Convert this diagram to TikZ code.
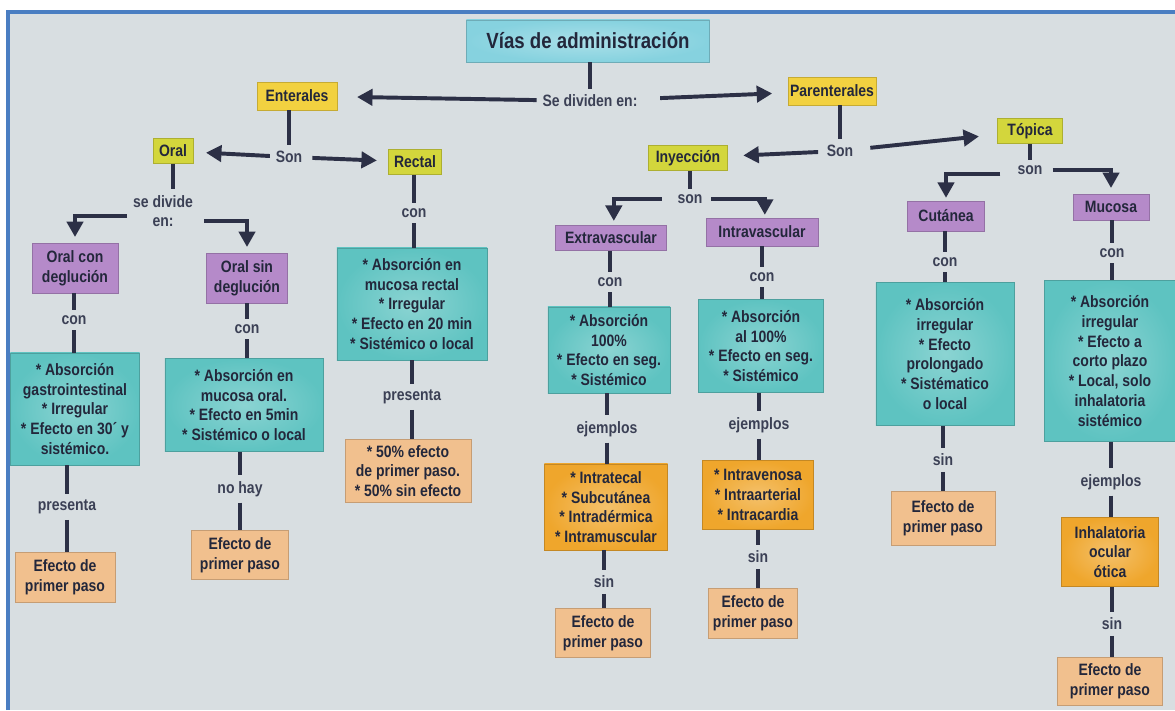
\documentclass[tikz,border=0pt]{standalone}
\usepackage{fontspec}
\setmainfont{Liberation Sans}[FakeStretch=0.85]
\usetikzlibrary{arrows.meta}
\definecolor{bgc}{HTML}{D8DEE1}
\definecolor{framec}{HTML}{4A7EC2}
\definecolor{txt}{HTML}{23273B}
\definecolor{labc}{HTML}{3B4055}
\definecolor{linec}{HTML}{2C3046}
\definecolor{ttlc}{HTML}{86D2DF}
\definecolor{yelc}{HTML}{F2D140}
\definecolor{lgc}{HTML}{D3D63C}
\definecolor{purc}{HTML}{B58AC9}
\definecolor{teac}{HTML}{5EC3C1}
\definecolor{orac}{HTML}{EFA62C}
\definecolor{pchc}{HTML}{F1C08E}
\tikzset{
  nbase/.style={font=\bfseries\fontsize{11.7pt}{14pt}\selectfont, text=txt, align=center, inner sep=0pt},
  sz/.style 2 args={minimum width={#1*0.7113pt}, minimum height={#2*0.7113pt}},
  boxc/.style={nbase, fill=#1, draw=#1!82!black, line width=0.5pt},
  ttl/.style={boxc=ttlc, inner color=ttlc!70!white, outer color=ttlc, font=\bfseries\fontsize{15.6pt}{18pt}\selectfont},
  yel/.style={boxc=yelc},
  lg/.style={boxc=lgc},
  pur/.style={boxc=purc},
  tea/.style={boxc=teac, inner color=teac!72!white, outer color=teac},
  ora/.style={boxc=orac, inner color=orac!70!white, outer color=orac},
  pch/.style={boxc=pchc},
  lab/.style={nbase, text=labc, inner sep=4pt},
  conn/.style={draw=linec, line width=2.8pt},
  arr/.style={draw=linec, line width=2.8pt, -{Triangle[length=11pt,width=11.5pt]}},
}
\begin{document}
\begin{tikzpicture}[x=0.025cm,y=-0.025cm]
\useasboundingbox (0,0) rectangle (1175,710);
\fill[white] (0,0) rectangle (1175,710);
\fill[bgc] (8,12) rectangle (1175,710);
\draw[framec, line width=2.2pt] (8,710) -- (8,12) -- (1175,12);

% top level
\node[ttl, sz={243}{42}] (title) at (588,41) {Vías de administración};
\node[lab] (sediv) at (590,101) {Se dividen en:};
\node[yel, sz={80}{28}] (ent) at (297,96) {Enterales};
\node[yel, sz={88}{28}] (par) at (832,91) {Parenterales};

% enterales branch
\node[lab] (son1) at (289,157) {Son};
\node[lg, sz={40}{25}] (oral) at (173,151) {Oral};
\node[lg, sz={53}{25}] (rectal) at (415,162) {Rectal};
\node[lab] (sd) at (163,211) {se divide\\en:};
\node[pur, sz={86}{50}] (ocd) at (75,268) {Oral con\\deglución};
\node[pur, sz={81}{50}] (osd) at (247,278) {Oral sin\\deglución};

\node[lab] (conA) at (74,320) {con};
\node[tea, sz={129}{112}] (tA) at (75,409) {* Absorción\\gastrointestinal\\* Irregular\\* Efecto en 30´ y\\sistémico.};
\node[lab] (presA) at (67,507) {presenta};
\node[pch, sz={100}{50}] (pA) at (65,577) {Efecto de\\primer paso};

\node[lab] (conB) at (247,329) {con};
\node[tea, sz={158}{93}] (tB) at (244,405) {* Absorción en\\mucosa oral.\\* Efecto en 5min\\* Sistémico o local};
\node[lab] (nohay) at (240,489) {no hay};
\node[pch, sz={97}{49}] (pB) at (240,555) {Efecto de\\primer paso};

\node[lab] (conC) at (414,213) {con};
\node[tea, sz={150}{112}] (tC) at (412,304) {* Absorción en\\mucosa rectal\\* Irregular\\* Efecto en 20 min\\* Sistémico o local};
\node[lab] (presC) at (412,397) {presenta};
\node[pch, sz={126}{63}] (pC) at (408,471) {* 50\% efecto\\de primer paso.\\* 50\% sin efecto};

% parenterales branch
\node[lab] (son2) at (840,151) {Son};
\node[lg, sz={79}{25}] (iny) at (688,158) {Inyección};
\node[lg, sz={65}{25}] (topi) at (1030,131) {Tópica};
\node[lab] (son3) at (690,199) {son};
\node[pur, sz={111}{25}] (extra) at (611,238) {Extravascular};
\node[pur, sz={112}{28}] (intra) at (762,232) {Intravascular};
\node[lab] (son4) at (1030,170) {son};
\node[pur, sz={77}{30}] (cut) at (946,216) {Cutánea};
\node[pur, sz={76}{26}] (muc) at (1111,207) {Mucosa};

\node[lab] (conD) at (610,282) {con};
\node[tea, sz={122}{86}] (tD) at (609,350) {* Absorción\\100\%\\* Efecto en seg.\\* Sistémico};
\node[lab] (ejD) at (607,429) {ejemplos};
\node[ora, sz={123}{86}] (oD) at (606,507) {* Intratecal\\* Subcutánea\\* Intradérmica\\* Intramuscular};
\node[lab] (sinD) at (604,582) {sin};
\node[pch, sz={95}{49}] (pD) at (603,633) {Efecto de\\primer paso};

\node[lab] (conE) at (762,277) {con};
\node[tea, sz={125}{93}] (tE) at (761,346) {* Absorción\\al 100\%\\* Efecto en seg.\\* Sistémico};
\node[lab] (ejE) at (759,425) {ejemplos};
\node[ora, sz={111}{69}] (oE) at (758,495) {* Intravenosa\\* Intraarterial\\* Intracardia};
\node[lab] (sinE) at (758,557) {sin};
\node[pch, sz={89}{50}] (pE) at (753,613) {Efecto de\\primer paso};

\node[lab] (conF) at (945,262) {con};
\node[tea, sz={138}{143}] (tF) at (945,354) {* Absorción\\irregular\\* Efecto\\prolongado\\* Sistématico\\o local};
\node[lab] (sinF) at (943,460) {sin};
\node[pch, sz={104}{54}] (pF) at (943,518) {Efecto de\\primer paso};

\node[lab] (conG) at (1112,253) {con};
\node[tea, sz={131}{161}] (tG) at (1110,361) {* Absorción\\irregular\\* Efecto a\\corto plazo\\* Local, solo\\inhalatoria\\sistémico};
\node[lab] (ejG) at (1111,482) {ejemplos};
\node[ora, sz={97}{69}] (oG) at (1110,552) {Inhalatoria\\ocular\\ótica};
\node[lab] (sinG) at (1112,624) {sin};
\node[pch, sz={105}{48}] (pG) at (1110,681) {Efecto de\\primer paso};

% vertical connectors
\draw[conn] (sediv.north |- title.south) -- (sediv.north);
\draw[conn] (son1.north |- ent.south) -- (son1.north);
\draw[conn] (oral.south) -- (oral.south |- sd.north);
\draw[conn] (son2.north |- par.south) -- (son2.north);
\draw[conn] (son3.north |- iny.south) -- (son3.north);
\draw[conn] (son4.north |- topi.south) -- (son4.north);

\foreach \u/\l/\d in {ocd/conA/tA, tA/presA/pA, osd/conB/tB, tB/nohay/pB,
  rectal/conC/tC, tC/presC/pC, extra/conD/tD, tD/ejD/oD, oD/sinD/pD,
  intra/conE/tE, tE/ejE/oE, oE/sinE/pE, cut/conF/tF, tF/sinF/pF,
  muc/conG/tG, tG/ejG/oG, oG/sinG/pG}{
  \draw[conn] (\l.north |- \u.south) -- (\l.north);
  \draw[conn] (\l.south) -- (\l.south |- \d.north);
}

% horizontal arrows
\draw[arr, shorten >=14pt] (sediv) -- (ent);
\draw[arr, shorten <=12pt, shorten >=11pt] (sediv) -- (par);
\draw[arr, shorten >=9pt] (son1) -- (oral);
\draw[arr, shorten <=3pt, shorten >=8pt] (son1) -- (rectal);
\draw[arr, shorten <=2pt, shorten >=11pt] (son2) -- (iny);
\draw[arr, shorten <=8pt, shorten >=13pt] (son2) -- (topi);

% elbow arrows
\draw[arr, shorten >=4pt] ([yshift=-3.5pt]sd.west) -| (ocd.north);
\draw[arr, shorten >=4pt] ([xshift=4pt,yshift=-7pt]sd.east) -| (osd.north);
\draw[arr, shorten >=3pt] ([xshift=-7pt]son3.west) -| ([xshift=2pt]extra.north);
\draw[arr, shorten >=2pt] ([xshift=2pt]son3.east) -| ([xshift=2pt]intra.north);
\draw[arr, shorten >=2pt] ([xshift=-8pt,yshift=-3pt]son4.west) -| (cut.north);
\draw[arr, shorten >=4pt] ([xshift=3pt]son4.east) -| (muc.north);
\end{tikzpicture}
\end{document}
